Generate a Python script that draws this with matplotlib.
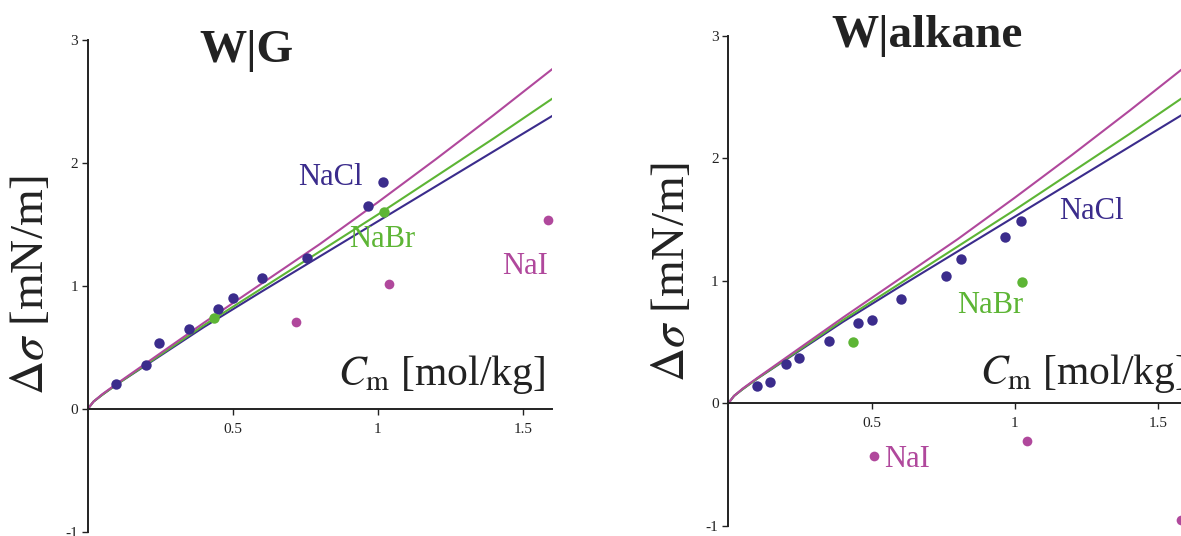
import matplotlib
matplotlib.use("Agg")
import matplotlib.pyplot as plt

plt.rcParams["font.family"] = "Liberation Serif"
plt.rcParams["mathtext.fontset"] = "stix"

# Model curves (same for both interfaces), molality vs. surface tension increment
conc_curve = [0, 0.02, 0.05, 0.1, 0.2, 0.4, 0.6, 0.8, 1.0, 1.2, 1.4, 1.6]
nacl_curve = [0, 0.06, 0.115, 0.20, 0.355, 0.665, 0.955, 1.24, 1.525, 1.81, 2.095, 2.38]
nabr_curve = [0, 0.06, 0.115, 0.20, 0.36, 0.68, 0.98, 1.28, 1.58, 1.89, 2.20, 2.52]
nai_curve = [0, 0.06, 0.12, 0.205, 0.37, 0.70, 1.02, 1.34, 1.68, 2.03, 2.39, 2.76]

# Experimental points, water|gas
wg_nacl_c = [0.098, 0.20, 0.246, 0.348, 0.45, 0.50, 0.602, 0.756, 0.965, 1.018]
wg_nacl_ds = [0.20, 0.358, 0.534, 0.65, 0.81, 0.90, 1.063, 1.23, 1.653, 1.843]
wg_nabr_c = [0.436, 1.023]
wg_nabr_ds = [0.737, 1.60]
wg_nai_c = [0.718, 1.039, 1.587]
wg_nai_ds = [0.71, 1.019, 1.537]

# Experimental points, water|alkane
wa_nacl_c = [0.099, 0.147, 0.200, 0.248, 0.350, 0.451, 0.501, 0.603, 0.758, 0.812, 0.965, 1.020]
wa_nacl_ds = [0.139, 0.174, 0.321, 0.367, 0.511, 0.653, 0.683, 0.852, 1.043, 1.176, 1.356, 1.489]
wa_nabr_c = [0.436, 1.024]
wa_nabr_ds = [0.50, 0.994]
wa_nai_c = [0.508, 1.041, 1.58]
wa_nai_ds = [-0.433, -0.31, -0.956]

c_nacl = "#3b2c8c"
c_nabr = "#5db535"
c_nai = "#b0489c"
ink = "#222222"

W, H = 1181, 536
fig = plt.figure(figsize=(W / 100, H / 100), dpi=100)


def px_axes(x0, x1, ytop, ybot):
    return fig.add_axes([x0 / W, 1 - ybot / H, (x1 - x0) / W, (ybot - ytop) / H])


def style(ax):
    ax.set_xlim(0, 1.6)
    ax.set_ylim(-1, 3)
    ax.spines["top"].set_visible(False)
    ax.spines["right"].set_visible(False)
    ax.spines["bottom"].set_position(("data", 0))
    for s in ("left", "bottom"):
        ax.spines[s].set_linewidth(1.4)
        ax.spines[s].set_color(ink)
    ax.set_xticks([0.5, 1, 1.5])
    ax.set_xticklabels(["0.5", "1", "1.5"])
    ax.set_yticks([-1, 0, 1, 2, 3])
    ax.set_yticklabels(["-1", "0", "1", "2", "3"])
    ax.tick_params(axis="both", direction="out", length=4, width=1,
                   colors=ink, labelsize=11, pad=3)
    ax.tick_params(axis="x", pad=6)
    ax.patch.set_alpha(0)


def draw(ax, nacl, nabr, nai):
    ax.plot(conc_curve, nacl_curve, color=c_nacl, lw=1.5, zorder=2)
    ax.plot(conc_curve, nabr_curve, color=c_nabr, lw=1.5, zorder=2)
    ax.plot(conc_curve, nai_curve, color=c_nai, lw=1.5, zorder=2)
    ax.plot(*nacl, "o", color=c_nacl, ms=7.5, mec="none", zorder=3, clip_on=False)
    ax.plot(*nabr, "o", color=c_nabr, ms=7.5, mec="none", zorder=3, clip_on=False)
    ax.plot(*nai, "o", color=c_nai, ms=7, mec="none", zorder=3, clip_on=False)


# W|G
ax1 = px_axes(87.7, 87.7 + 1.6 * 290, 40, 532)
style(ax1)
draw(ax1, (wg_nacl_c, wg_nacl_ds), (wg_nabr_c, wg_nabr_ds), (wg_nai_c, wg_nai_ds))
ax1.text(0.725, 1.82, "NaCl", color=c_nacl, fontsize=22, va="baseline")
ax1.text(0.90, 1.32, "NaBr", color=c_nabr, fontsize=22, va="baseline")
ax1.text(1.43, 1.10, "NaI", color=c_nai, fontsize=22, va="baseline")
ax1.text(0.863, 0.195, r"$C_{\mathrm{m}}$ [mol/kg]", color=ink, fontsize=30,
         va="baseline")

# W|alkane
ax2 = px_axes(728.3, 728.3 + 1.6 * 286.6, 36, 525.7)
style(ax2)
draw(ax2, (wa_nacl_c, wa_nacl_ds), (wa_nabr_c, wa_nabr_ds), (wa_nai_c, wa_nai_ds))
ax2.text(1.154, 1.508, "NaCl", color=c_nacl, fontsize=22, va="baseline")
ax2.text(0.798, 0.74, "NaBr", color=c_nabr, fontsize=22, va="baseline")
ax2.text(0.543, -0.52, "NaI", color=c_nai, fontsize=22, va="baseline")
ax2.text(0.878, 0.154, r"$C_{\mathrm{m}}$ [mol/kg]", color=ink, fontsize=30,
         va="baseline")

# y-axis labels and panel titles
ylab = r"$\Delta\sigma$ [mN/m]"
fig.text(32 / W, 1 - 285 / H, ylab, rotation=90, fontsize=34, color=ink,
         ha="center", va="center")
fig.text(672 / W, 1 - 272 / H, ylab, rotation=90, fontsize=34, color=ink,
         ha="center", va="center")
fig.text(246 / W, 1 - 62 / H, "W|G", fontsize=34, fontweight="bold",
         color=ink, ha="center", va="baseline")
fig.text(927 / W, 1 - 47 / H, "W|alkane", fontsize=34, fontweight="bold",
         color=ink, ha="center", va="baseline")

fig.savefig("out.png", dpi=100)
